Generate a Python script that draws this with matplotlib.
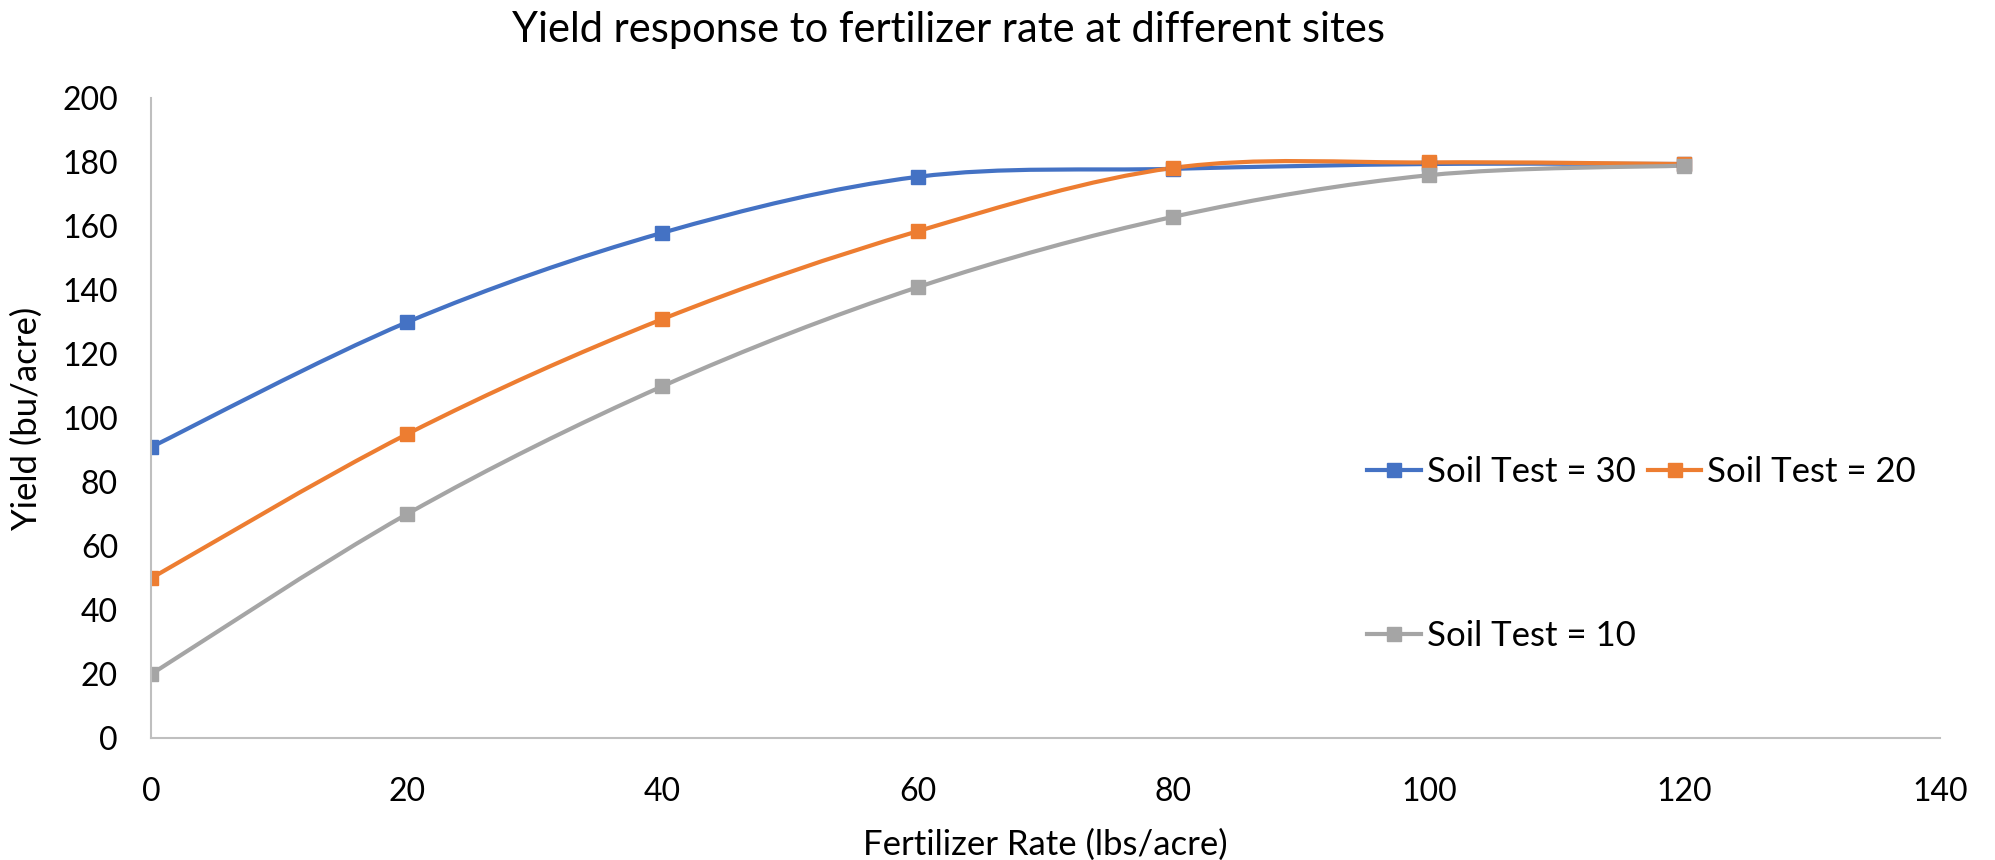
import matplotlib
matplotlib.use("Agg")
import matplotlib.pyplot as plt
from matplotlib.path import Path
from matplotlib.patches import PathPatch
from matplotlib.lines import Line2D
import numpy as np

plt.rcParams['font.family'] = ['Lato', 'DejaVu Sans']

# Fertilizer rate (lbs/acre) and yield (bu/acre) per soil test level
rates = [0, 20, 40, 60, 80, 100, 120]
yield_st30 = [91, 130, 158, 175.5, 178, 179.5, 179.5]
yield_st20 = [50, 95, 131, 158.5, 178.3, 180, 179.5]
yield_st10 = [20, 70, 110, 141, 163, 176, 179]

labels = ["Soil Test = 30", "Soil Test = 20", "Soil Test = 10"]
colors = ["#4472C4", "#ED7D31", "#A5A5A5"]
series = [yield_st30, yield_st20, yield_st10]

title = "Yield response to fertilizer rate at different sites"
xlabel = "Fertilizer Rate (lbs/acre)"
ylabel = "Yield (bu/acre)"
xticks = [0, 20, 40, 60, 80, 100, 120, 140]
yticks = [0, 20, 40, 60, 80, 100, 120, 140, 160, 180, 200]


def smooth_path(xs, ys):
    """Cubic Bezier path through the points (Catmull-Rom style tangents)."""
    pts = np.column_stack([xs, ys]).astype(float)
    n = len(pts)
    verts = [pts[0]]
    codes = [Path.MOVETO]
    for i in range(n - 1):
        p0 = pts[i - 1] if i > 0 else pts[i]
        p1 = pts[i]
        p2 = pts[i + 1]
        p3 = pts[i + 2] if i + 2 < n else pts[i + 1]
        c1 = p1 + (p2 - p0) / 6.0
        c2 = p2 - (p3 - p1) / 6.0
        verts += [c1, c2, p2]
        codes += [Path.CURVE4] * 3
    return Path(verts, codes)


fig = plt.figure(figsize=(19.95, 8.6), dpi=100)
ax = fig.add_axes([0.0759, 0.1419, 0.8965, 0.7436])

lw = 3.0
ms = 9.5
handles = []
for ys, col, lab in zip(series, colors, labels):
    patch = PathPatch(smooth_path(rates, ys), facecolor="none", edgecolor=col,
                      lw=lw, capstyle="round", joinstyle="round")
    ax.add_patch(patch)
    ax.plot(rates, ys, linestyle="none", marker="s", markersize=ms,
            color=col, markeredgecolor=col)
    handles.append(Line2D([], [], color=col, lw=lw, marker="s",
                          markersize=ms, markeredgecolor=col, label=lab))

ax.set_xlim(0, 140)
ax.set_ylim(0, 200)
ax.set_xticks(xticks)
ax.set_yticks(yticks)
ax.tick_params(axis="both", length=0, labelsize=23, colors="#000000")
ax.tick_params(axis="y", pad=24)
ax.tick_params(axis="x", pad=28)

for side in ["top", "right"]:
    ax.spines[side].set_visible(False)
for side in ["left", "bottom"]:
    ax.spines[side].set_color("#BFBFBF")
    ax.spines[side].set_linewidth(1.5)

ax.set_xlabel(xlabel, fontsize=25, labelpad=16)
ax.set_ylabel(ylabel, fontsize=25, labelpad=14)

fig.text(948 / 1995, 1 - 30 / 860, title, fontsize=30, ha="center", va="center")

# Legend: row one holds ST30 and ST20, row two holds ST10
leg_kw = dict(frameon=False, fontsize=25, handlelength=1.55,
              handletextpad=0.17, loc="upper left", borderaxespad=0)
leg_top = ax.legend(handles=handles[:2], ncol=2, columnspacing=0.34,
                    bbox_to_anchor=(0.672, 0.462), **leg_kw)
ax.add_artist(leg_top)
ax.legend(handles=handles[2:], bbox_to_anchor=(0.672, 0.206), **leg_kw)

fig.savefig("out.png", dpi=100)
